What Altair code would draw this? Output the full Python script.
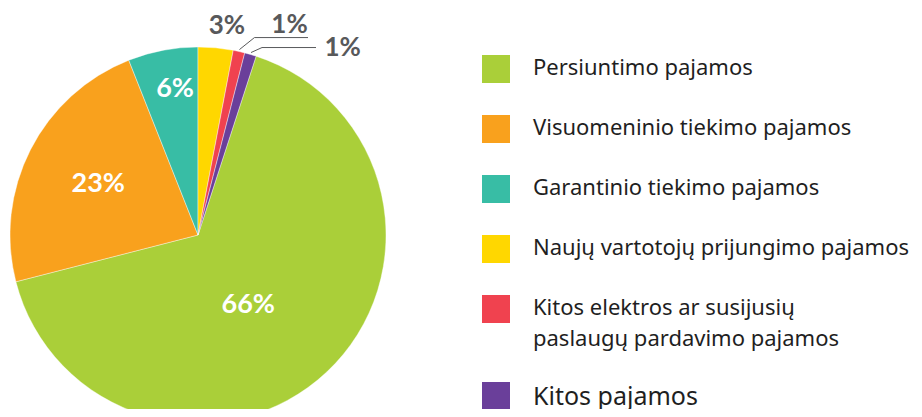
import math
import altair as alt
import pandas as pd

# ---- data ----
categories = [
    "Persiuntimo pajamos",
    "Visuomeninio tiekimo pajamos",
    "Garantinio tiekimo pajamos",
    "Naujų vartotojų prijungimo pajamos",
    "Kitos elektros ar susijusių paslaugų pardavimo pajamos",
    "Kitos pajamos",
]
shares = [66, 23, 6, 3, 1, 1]
labels = ["66%", "23%", "6%", "3%", "1%", "1%"]
colors = ["#AACF39", "#F9A11D", "#38BDA5", "#FFD700", "#F0424F", "#6A3F9A"]
# clockwise position of each slice, starting at 12 o'clock
slice_rank = [3, 4, 5, 0, 1, 2]

df = pd.DataFrame({"cat": categories, "value": shares, "label": labels, "rank": slice_rank})

CX, CY, R = 190, 227, 188
GRAY = "#58595B"
LABEL_FONT = "Lato"
RED_CAT = categories[4]

base = alt.Chart(df).encode(
    theta=alt.Theta("value:Q", stack=True, scale=alt.Scale(domain=[0, 100])),
    order=alt.Order("rank:Q"),
    x=alt.value(CX),
    y=alt.value(CY),
)

arcs = base.mark_arc(outerRadius=R, stroke="white", strokeWidth=0.4).encode(
    color=alt.Color(
        "cat:N",
        scale=alt.Scale(domain=categories, range=colors),
        legend=alt.Legend(
            title=None,
            orient="none",
            legendX=474,
            legendY=47,
            padding=0,
            symbolType="square",
            symbolSize=784,
            symbolStrokeWidth=0,
            symbolOpacity=1,
            rowPadding=32,
            labelOffset=23,
            labelLimit=600,
            labelFont="Noto Sans",
            labelFontSize=alt.ExprRef("datum.value == 'Kitos pajamos' ? 25 : 22"),
            labelBaseline="top",
            labelColor="#1f1f1f",
            labelExpr=f"datum.value == '{RED_CAT}' ? ['Kitos elektros ar susijusių', 'paslaugų pardavimo pajamos'] : datum.label",
        ),
    )
)


def label_layer(idx, radius, color, dx=0, dy=0, size=27):
    name = categories[idx]
    return (
        base.transform_calculate(t=f"datum.cat == '{name}' ? datum.label : ''")
        .mark_text(
            radius=radius,
            font=LABEL_FONT,
            fontWeight="bold",
            fontSize=size,
            color=color,
            dx=dx,
            dy=dy,
        )
        .encode(text="t:N")
    )


inner = [
    label_layer(0, 88, "white", dx=-10, dy=6),
    label_layer(1, 112, "white"),
    label_layer(2, 149, "white", dx=5),
]
outer = [
    label_layer(3, 212, GRAY, dx=9, dy=2, size=26),
    label_layer(4, 218, GRAY, dx=44, dy=3, size=26),
    label_layer(5, 196, GRAY, dx=90, dy=1, size=26),
]

# leader lines for the two thin slices, derived from the slice angles
starts = [sum(shares[j] for j in range(6) if slice_rank[j] < slice_rank[i]) for i in range(6)]
rules = []
for idx, end_x, (ox, oy) in [(4, 300, (15, -12)), (5, 308, (11, -5))]:
    mid = (starts[idx] + shares[idx] / 2) / 100 * 2 * math.pi
    sx = CX + (R + 2) * math.sin(mid)
    sy = CY - (R + 2) * math.cos(mid)
    ex, ey = sx + ox, sy + oy
    seg = pd.DataFrame({"k": [0]})
    rules.append(
        alt.Chart(seg).mark_rule(color=GRAY, strokeWidth=1).encode(
            x=alt.value(sx), y=alt.value(sy), x2=alt.value(ex), y2=alt.value(ey)
        )
    )
    rules.append(
        alt.Chart(seg).mark_rule(color=GRAY, strokeWidth=1).encode(
            x=alt.value(ex), y=alt.value(ey), x2=alt.value(end_x), y2=alt.value(ey)
        )
    )

chart = (
    alt.layer(arcs, *inner, *outer, *rules)
    .properties(width=906, height=401, autosize=alt.AutoSizeParams(type="none"), padding=0)
    .configure(style={"guide-label": {"lineHeight": 31, "dy": -11}})
    .configure_view(stroke=None)
)

chart.save("out.html", embed_options={"renderer": "svg", "actions": False})
